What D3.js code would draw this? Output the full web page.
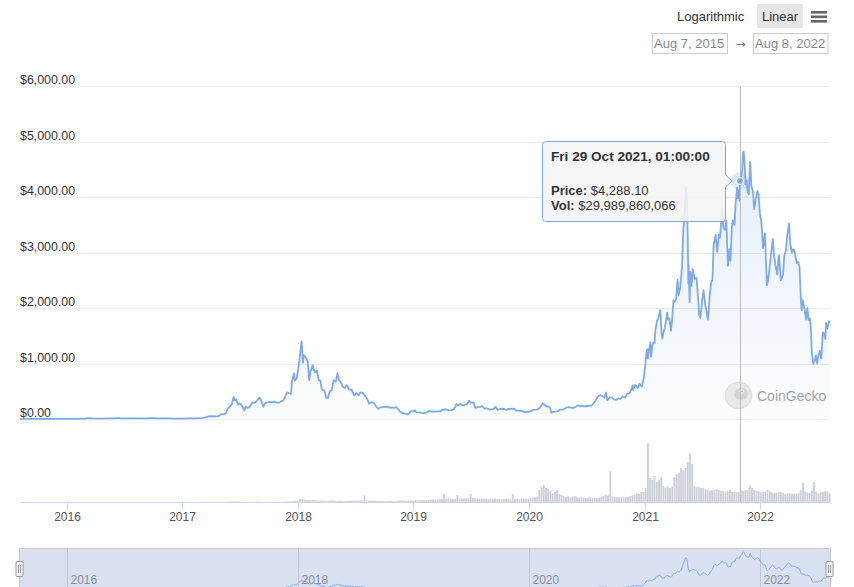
<!DOCTYPE html>
<html><head><meta charset="utf-8">
<script src="https://cdn.jsdelivr.net/npm/d3@7"></script>
<style>body{margin:0;background:#fff;}svg{display:block;font-family:"Liberation Sans",Arial,Helvetica,sans-serif;}</style>
</head><body><svg id="c" width="854" height="587"></svg>
<script>
// ---------------- DATA ----------------
const startDate = "2015-08-07";
const endDate = "2022-08-08";
const priceTicks = [0, 1000, 2000, 3000, 4000, 5000, 6000];
const yearTicks = [2016, 2017, 2018, 2019, 2020, 2021, 2022];
const navYearTicks = [2016, 2018, 2020, 2022];
const rangeButtons = ["Logarithmic", "Linear"];
const rangeLabels = ["Aug 7, 2015", "Aug 8, 2022"];
const watermark = "CoinGecko";

// [date, price USD]
const priceSeries = [
["2015-08-07",2.8],["2015-08-10",0.7],["2015-08-18",1.2],["2015-08-30",1.3],["2015-09-15",0.9],["2015-10-01",0.7],["2015-10-20",0.45],["2015-11-05",1.0],["2015-11-20",0.95],["2015-12-10",0.85],["2015-12-31",0.93],
["2016-01-20",1.55],["2016-02-01",2.3],["2016-02-15",5.0],["2016-03-01",7.9],["2016-03-13",15.0],["2016-03-25",10.5],["2016-04-10",8.3],["2016-04-25",7.5],["2016-05-10",9.5],["2016-05-25",12.5],["2016-06-10",14.5],["2016-06-17",15.0],["2016-06-20",11.0],["2016-07-01",12.4],["2016-07-20",12.5],["2016-08-01",11.0],["2016-08-20",11.0],["2016-09-10",12.0],["2016-09-30",13.2],["2016-10-15",12.0],["2016-11-01",11.0],["2016-11-15",10.0],["2016-12-01",8.5],["2016-12-15",7.8],["2016-12-31",8.0],
["2017-01-15",9.8],["2017-02-01",10.7],["2017-02-15",12.9],["2017-03-01",17.3],["2017-03-08",19],["2017-03-15",28.5],["2017-03-22",42],["2017-04-01",50],["2017-04-15",48],["2017-04-25",50],["2017-05-01",78],["2017-05-10",88],["2017-05-18",97],["2017-05-25",190],["2017-06-01",230],["2017-06-06",260],["2017-06-12",400],["2017-06-15",340],["2017-06-20",355],["2017-06-26",260],["2017-07-01",280],["2017-07-08",240],["2017-07-16",155],["2017-07-20",225],["2017-07-27",200],["2017-08-03",225],["2017-08-10",300],["2017-08-18",295],["2017-08-25",330],["2017-09-01",385],["2017-09-07",335],["2017-09-14",220],["2017-09-20",285],["2017-09-28",300],["2017-10-05",310],["2017-10-12",305],["2017-10-19",315],["2017-10-26",295],["2017-11-02",290],["2017-11-09",320],["2017-11-16",330],["2017-11-23",410],["2017-11-28",480],["2017-12-05",460],["2017-12-10",450],["2017-12-14",700],["2017-12-20",820],["2017-12-22",690],["2017-12-28",730],
["2018-01-04",960],["2018-01-10",1260],["2018-01-13",1400],["2018-01-17",1010],["2018-01-20",1150],["2018-01-27",1100],["2018-02-01",1040],["2018-02-06",700],["2018-02-10",860],["2018-02-17",970],["2018-02-24",840],["2018-03-02",870],["2018-03-08",700],["2018-03-13",690],["2018-03-18",530],["2018-03-25",520],["2018-04-01",380],["2018-04-06",380],["2018-04-12",500],["2018-04-18",520],["2018-04-24",700],["2018-05-01",670],["2018-05-06",820],["2018-05-12",690],["2018-05-17",660],["2018-05-23",580],["2018-05-29",560],["2018-06-05",610],["2018-06-12",530],["2018-06-20",530],["2018-06-28",420],["2018-07-05",470],["2018-07-12",430],["2018-07-18",480],["2018-07-25",470],["2018-08-01",420],["2018-08-08",360],["2018-08-14",280],["2018-08-20",300],["2018-08-28",295],["2018-09-05",230],["2018-09-12",185],["2018-09-19",210],["2018-09-26",215],["2018-10-03",220],["2018-10-10",225],["2018-10-17",205],["2018-10-24",205],["2018-11-01",200],["2018-11-08",215],["2018-11-14",180],["2018-11-20",130],["2018-11-27",110],["2018-12-03",95],["2018-12-10",90],["2018-12-14",84],["2018-12-20",110],["2018-12-24",140],["2018-12-31",135],
["2019-01-06",155],["2019-01-10",125],["2019-01-20",120],["2019-01-30",105],["2019-02-06",105],["2019-02-14",122],["2019-02-20",148],["2019-02-27",135],["2019-03-07",137],["2019-03-14",133],["2019-03-21",137],["2019-03-28",138],["2019-04-03",170],["2019-04-10",175],["2019-04-17",167],["2019-04-24",155],["2019-05-01",160],["2019-05-08",170],["2019-05-14",215],["2019-05-17",265],["2019-05-22",245],["2019-05-30",270],["2019-06-05",245],["2019-06-12",255],["2019-06-20",270],["2019-06-26",330],["2019-07-02",290],["2019-07-10",300],["2019-07-16",200],["2019-07-24",215],["2019-07-31",218],["2019-08-07",230],["2019-08-14",185],["2019-08-21",195],["2019-08-29",170],["2019-09-05",175],["2019-09-12",180],["2019-09-18",222],["2019-09-24",165],["2019-10-01",180],["2019-10-08",185],["2019-10-15",180],["2019-10-23",162],["2019-10-26",180],["2019-11-02",183],["2019-11-09",188],["2019-11-16",184],["2019-11-22",150],["2019-11-29",152],["2019-12-06",148],["2019-12-13",144],["2019-12-18",122],["2019-12-25",127],
["2020-01-01",130],["2020-01-08",142],["2020-01-15",166],["2020-01-22",168],["2020-01-29",175],["2020-02-05",204],["2020-02-12",265],["2020-02-14",285],["2020-02-19",260],["2020-02-26",225],["2020-03-04",225],["2020-03-08",200],["2020-03-12",110],["2020-03-19",130],["2020-03-26",138],["2020-04-02",140],["2020-04-09",170],["2020-04-16",170],["2020-04-23",185],["2020-04-30",210],["2020-05-07",212],["2020-05-14",200],["2020-05-21",200],["2020-05-28",220],["2020-06-04",245],["2020-06-11",230],["2020-06-18",232],["2020-06-25",230],["2020-07-02",230],["2020-07-09",242],["2020-07-16",235],["2020-07-23",275],["2020-07-30",335],["2020-08-05",400],["2020-08-13",430],["2020-08-20",415],["2020-08-27",385],["2020-09-01",477],["2020-09-05",335],["2020-09-12",387],["2020-09-19",385],["2020-09-26",354],["2020-10-03",346],["2020-10-10",370],["2020-10-17",368],["2020-10-24",410],["2020-10-31",385],["2020-11-07",455],["2020-11-14",460],["2020-11-21",550],["2020-11-24",605],["2020-11-26",520],["2020-12-01",615],["2020-12-10",560],["2020-12-16",635],["2020-12-23",585],["2020-12-29",730],
["2021-01-03",975],["2021-01-04",1040],["2021-01-07",1220],["2021-01-10",1260],["2021-01-11",1090],["2021-01-14",1220],["2021-01-19",1380],["2021-01-21",1120],["2021-01-25",1320],["2021-01-29",1380],["2021-02-01",1370],["2021-02-04",1600],["2021-02-09",1770],["2021-02-13",1810],["2021-02-19",1960],["2021-02-20",1940],["2021-02-23",1570],["2021-02-26",1450],["2021-03-01",1560],["2021-03-06",1650],["2021-03-13",1920],["2021-03-16",1790],["2021-03-20",1810],["2021-03-25",1590],["2021-03-29",1820],["2021-04-02",2140],["2021-04-06",2110],["2021-04-10",2150],["2021-04-15",2510],["2021-04-18",2230],["2021-04-23",2370],["2021-04-26",2530],["2021-04-29",2760],["2021-05-03",3430],["2021-05-05",3520],["2021-05-09",3900],["2021-05-11",4170],["2021-05-12",3870],["2021-05-14",4080],["2021-05-17",3280],["2021-05-19",2440],["2021-05-20",2770],["2021-05-23",2100],["2021-05-25",2650],["2021-05-29",2400],["2021-06-02",2700],["2021-06-08",2520],["2021-06-14",2540],["2021-06-18",2230],["2021-06-22",1880],["2021-06-26",1820],["2021-07-01",2110],["2021-07-06",2320],["2021-07-12",2030],["2021-07-20",1790],["2021-07-25",2190],["2021-07-30",2460],["2021-08-03",2510],["2021-08-07",3150],["2021-08-13",3320],["2021-08-18",3010],["2021-08-23",3320],["2021-08-27",3270],["2021-09-03",3800],["2021-09-07",3430],["2021-09-12",3410],["2021-09-16",3580],["2021-09-21",2760],["2021-09-26",3060],["2021-09-29",2850],["2021-10-03",3420],["2021-10-06",3580],["2021-10-12",3500],["2021-10-15",3860],["2021-10-20",4170],["2021-10-22",3970],["2021-10-26",4130],["2021-10-28",3930],["2021-10-29",4288.1],["2021-11-01",4320],["2021-11-05",4480],["2021-11-08",4810],["2021-11-10",4815],["2021-11-12",4670],["2021-11-16",4230],["2021-11-19",4300],["2021-11-22",4090],["2021-11-26",4050],["2021-11-30",4630],["2021-12-01",4580],["2021-12-04",4200],["2021-12-09",4100],["2021-12-13",3780],["2021-12-18",3960],["2021-12-23",4110],["2021-12-27",4040],["2021-12-31",3700],
["2022-01-05",3540],["2022-01-10",3080],["2022-01-16",3350],["2022-01-22",2410],["2022-01-24",2440],["2022-01-28",2600],["2022-02-01",2790],["2022-02-05",3010],["2022-02-10",3240],["2022-02-14",2930],["2022-02-18",2780],["2022-02-24",2600],["2022-02-28",2920],["2022-03-02",2950],["2022-03-07",2500],["2022-03-14",2590],["2022-03-18",2940],["2022-03-23",3030],["2022-03-28",3330],["2022-04-02",3520],["2022-04-06",3160],["2022-04-11",3000],["2022-04-16",3060],["2022-04-21",2990],["2022-04-26",2810],["2022-05-01",2830],["2022-05-05",2750],["2022-05-09",2240],["2022-05-12",1960],["2022-05-15",2140],["2022-05-20",2020],["2022-05-26",1790],["2022-05-30",2000],["2022-06-03",1780],["2022-06-07",1810],["2022-06-10",1660],["2022-06-13",1200],["2022-06-18",995],["2022-06-22",1050],["2022-06-26",1140],["2022-06-30",1000],["2022-07-04",1150],["2022-07-08",1230],["2022-07-13",1090],["2022-07-18",1560],["2022-07-22",1540],["2022-07-26",1440],["2022-07-28",1730],["2022-08-01",1630],["2022-08-05",1720],["2022-08-08",1780]
];

// weekly volume, billions USD, one value per week starting at startDate
const vol2015 = [0.002,0.001,0.001,0.001,0.001,0.001,0.001,0.001,0.001,0.002,0.002,0.001,0.001,0.001,0.001,0.001,0.001,0.001,0.001,0.001,0.001];
const vol2016 = [0.003,0.004,0.005,0.008,0.012,0.015,0.02,0.03,0.04,0.05,0.03,0.02,0.02,0.015,0.018,0.02,0.02,0.025,0.03,0.03,0.05,0.06,0.04,0.03,0.025,0.02,0.02,0.02,0.015,0.015,0.015,0.02,0.02,0.018,0.015,0.015,0.02,0.02,0.015,0.015,0.012,0.012,0.015,0.01,0.01,0.012,0.01,0.01,0.01,0.01,0.012,0.012];
const vol2017 = [0.02,0.02,0.02,0.025,0.03,0.03,0.04,0.05,0.1,0.15,0.2,0.25,0.3,0.2,0.2,0.25,0.3,0.4,0.5,0.6,0.8,1.0,1.2,1.5,1.2,1.0,0.9,0.8,0.9,1.0,0.8,0.7,0.6,0.7,1.2,1.0,0.6,0.5,0.5,0.6,0.5,0.5,0.4,0.5,0.7,0.8,1.2,1.4,1.5,2.0,2.5,3.0,2.5];
const vol2018 = [7,8,6,5,5,4,5,4,3.6,3.4,3.6,3.2,3,3.2,4,3.6,3.4,3,3.2,2.8,2.8,3.2,3,3,3.6,3.4,3,3.6,3.2,17,4,3.6,3.4,3.2,3.2,3,3,3,2.8,2.8,3,3,2.6,2.6,3,4,3.6,3.2,3,2.8,3,3];
const vol2019 = [5,4.5,5,4.5,4.5,5,5,5.5,6,6,7,7.5,8,20,8,8.5,8,7.5,8,18,9,8.5,9,9.5,9,20,10,9,8.5,8,9,8.5,8,7.5,8,7.5,8,7,7.5,7,7.5,8,7.5,7,20,7.5,8,7,7,7.5,7,8];
const vol2020 = [10,11,12,14,30,38,42,35,32,28,22,25,30,20,18,14,13,14,12,13,14,12,11,12,11,10,11,12,10,11,10,11,14,16,18,16,77,14,13,12,12,11,12,12,13,14,16,18,22,20,25,25];
const vol2021 = [35,147,60,55,65,50,55,62,40,36,38,35,38,62,70,72,85,80,85,100,122,95,40,38,37,35,36,32,30,28,29,30,32,30,28,27,26,28,30,26,25,24,25,30,28,29,30,42,35,30,28,26,24];
const vol2022 = [26,25,30,27,24,22,23,24,25,22,20,21,22,20,21,20,22,30,48,26,24,22,28,50,26,22,24,25,28,26,22];

// tooltip point
const tooltipDate = "2021-10-29T01:00:00";
const tooltipPrice = 4288.10;
const tooltipVolume = 29989860066;

// ---------------- CHART ----------------
const svg = d3.select("#c");
const parseDay = d3.utcParse("%Y-%m-%d");
const parseFull = d3.utcParse("%Y-%m-%dT%H:%M:%S");
const t0 = parseDay(startDate), t1 = parseDay(endDate);
const prices = priceSeries.map(d => ({date: parseDay(d[0]), value: d[1]}));
const volumes = [].concat(vol2015, vol2016, vol2017, vol2018, vol2019, vol2020, vol2021, vol2022)
  .map((v, i) => ({date: d3.utcDay.offset(t0, i * 7), value: v * 1e9}));

const left = 20, right = 829.5;
const x = d3.scaleUtc().domain([t0, t1]).range([left, right]);
const y = d3.scaleLinear().domain([0, 6000]).range([419, 86]);
const yVol = d3.scaleLinear().domain([0, 150e9]).range([502, 442]);
const lineColor = "#7eaae8";

// gradient
const defs = svg.append("defs");
const grad = defs.append("linearGradient").attr("id", "ag").attr("gradientUnits", "userSpaceOnUse")
  .attr("x1", 0).attr("x2", 0).attr("y1", 150).attr("y2", 419);
grad.append("stop").attr("offset", 0).attr("stop-color", lineColor).attr("stop-opacity", 0.2);
grad.append("stop").attr("offset", 1).attr("stop-color", lineColor).attr("stop-opacity", 0.03);
defs.append("clipPath").attr("id", "navclip").append("rect").attr("x", left).attr("y", 548).attr("width", 810).attr("height", 50);

// top controls
const ctl = svg.append("g").attr("font-size", 13).attr("fill", "#333");
ctl.append("text").attr("x", 677).attr("y", 21).text(rangeButtons[0]);
ctl.append("rect").attr("x", 757).attr("y", 4).attr("width", 46).attr("height", 24).attr("rx", 2).attr("fill", "#e6e6e6");
ctl.append("text").attr("x", 762).attr("y", 21).text(rangeButtons[1]);
[11, 15.5, 20].forEach(yy => ctl.append("rect").attr("x", 811).attr("y", yy).attr("width", 16).attr("height", 2.6).attr("fill", "#666"));
const boxes = [{x: 652.5, w: 75}, {x: 753.5, w: 74.5}];
boxes.forEach((b, i) => {
  ctl.append("rect").attr("x", b.x).attr("y", 33.5).attr("width", b.w).attr("height", 20).attr("fill", "#fff").attr("stroke", "#ccc");
  ctl.append("text").attr("x", b.x + 1.5).attr("y", 48).attr("fill", "#888").text(rangeLabels[i]);
});
ctl.append("text").attr("x", 740.5).attr("y", 47.5).attr("text-anchor", "middle").attr("font-size", 12)
  .attr("font-family", "'DejaVu Sans', sans-serif").attr("fill", "#777").text("→");

// grid + y labels
const gy = svg.append("g");
priceTicks.forEach(v => {
  gy.append("line").attr("x1", left).attr("x2", 830).attr("y1", Math.round(y(v)) + 0.5).attr("y2", Math.round(y(v)) + 0.5)
    .attr("stroke", "#ececec");
  gy.append("text").attr("x", left).attr("y", Math.round(y(v)) - 2).attr("font-size", 12.4).attr("fill", "#333")
    .text(d3.format("$,.2f")(v));
});

// watermark
const wm = svg.append("g");
wm.append("circle").attr("cx", 738.5).attr("cy", 395.5).attr("r", 13).attr("fill", "#ececec").attr("stroke", "#e2e2e2").attr("stroke-width", 1.5);
wm.append("ellipse").attr("cx", 741).attr("cy", 394).attr("rx", 7).attr("ry", 6).attr("fill", "#d6d6d6");
wm.append("circle").attr("cx", 742).attr("cy", 391.5).attr("r", 2.2).attr("fill", "#f4f4f4");
wm.append("circle").attr("cx", 742.3).attr("cy", 391.5).attr("r", 1).attr("fill", "#bdbdbd");
wm.append("text").attr("x", 757).attr("y", 401).attr("font-size", 14).attr("fill", "#a3a3a3").text(watermark);

// volume bars
svg.append("g").selectAll("rect").data(volumes.filter(d => d.date <= t1)).join("rect")
  .attr("x", d => x(d.date))
  .attr("width", d => Math.max(0.6, x(d3.utcDay.offset(d.date, 7)) - x(d.date) - 0.25))
  .attr("y", d => yVol(d.value))
  .attr("height", d => 502 - yVol(d.value))
  .attr("fill", "#cfd2d9");

// price area + line
svg.append("path").datum(prices)
  .attr("d", d3.area().x(d => x(d.date)).y0(y(0)).y1(d => y(d.value)))
  .attr("fill", "url(#ag)");
svg.append("path").datum(prices)
  .attr("d", d3.line().x(d => x(d.date)).y(d => y(d.value)))
  .attr("fill", "none").attr("stroke", lineColor).attr("stroke-width", 1.8).attr("stroke-linejoin", "round");

// x axis
const gx = svg.append("g");
gx.append("line").attr("x1", left).attr("x2", 830).attr("y1", 502.5).attr("y2", 502.5).attr("stroke", "#ccd6eb");
yearTicks.forEach(yr => {
  const xx = Math.round(x(Date.UTC(yr, 0, 1))) + 0.5;
  gx.append("line").attr("x1", xx).attr("x2", xx).attr("y1", 502.5).attr("y2", 509.5).attr("stroke", "#ccd6eb");
  gx.append("text").attr("x", xx).attr("y", 521).attr("text-anchor", "middle").attr("font-size", 12).attr("fill", "#555").text(yr);
});

// crosshair + marker
const td = parseFull(tooltipDate);
const cx = Math.round(x(td)) + 0.5, cy = y(tooltipPrice);
svg.append("line").attr("x1", cx).attr("x2", cx).attr("y1", 87).attr("y2", 502).attr("stroke", "#bbb");
svg.append("circle").attr("cx", x(td)).attr("cy", cy).attr("r", 9).attr("fill", lineColor).attr("fill-opacity", 0.25);
svg.append("circle").attr("cx", x(td)).attr("cy", cy).attr("r", 3.5).attr("fill", lineColor).attr("stroke", "#fff").attr("stroke-width", 1);

// tooltip
const L = 542.5, T = 141.5, R = 725.5, B = 221.5, r = 3, tipX = x(td) - 8;
const tp = d3.path();
tp.moveTo(L + r, T); tp.lineTo(R - r, T); tp.quadraticCurveTo(R, T, R, T + r);
tp.lineTo(R, cy - 6); tp.lineTo(tipX, cy); tp.lineTo(R, cy + 6);
tp.lineTo(R, B - r); tp.quadraticCurveTo(R, B, R - r, B); tp.lineTo(L + r, B);
tp.quadraticCurveTo(L, B, L, B - r); tp.lineTo(L, T + r); tp.quadraticCurveTo(L, T, L + r, T); tp.closePath();
svg.append("path").attr("d", tp.toString()).attr("fill", "rgba(0,0,0,0.05)").attr("transform", "translate(1,1)");
svg.append("path").attr("d", tp.toString()).attr("fill", "rgba(245,245,245,0.88)").attr("stroke", lineColor).attr("stroke-width", 1);
const tt = svg.append("g").attr("font-size", 13).attr("fill", "#333");
tt.append("text").attr("x", 551).attr("y", 161).attr("font-weight", "bold").attr("font-size", 13.6).text(d3.utcFormat("%a %d %b %Y, %H:%M:%S")(td));
const l2 = tt.append("text").attr("x", 551).attr("y", 194.5);
l2.append("tspan").attr("font-weight", "bold").text("Price:");
l2.append("tspan").text(" " + d3.format("$,.2f")(tooltipPrice));
const l3 = tt.append("text").attr("x", 551).attr("y", 209.5);
l3.append("tspan").attr("font-weight", "bold").text("Vol:");
l3.append("tspan").text(" " + d3.format("$,")(tooltipVolume));

// navigator
const yNav = d3.scaleLinear().domain([0, 4815]).range([590.6, 551.7]);
const nav = svg.append("g");
nav.append("rect").attr("x", left).attr("y", 548).attr("width", 810).attr("height", 40).attr("fill", "rgba(102,133,194,0.25)");
navYearTicks.forEach(yr => {
  const xx = Math.round(x(Date.UTC(yr, 0, 1))) + 0.5;
  nav.append("line").attr("x1", xx).attr("x2", xx).attr("y1", 548).attr("y2", 588).attr("stroke", "#c2c6d2");
  nav.append("text").attr("x", xx + 3).attr("y", 584).attr("font-size", 12).attr("fill", "#8a8e99").text(yr);
});
nav.append("path").datum(prices).attr("clip-path", "url(#navclip)")
  .attr("d", d3.line().curve(d3.curveBasis).x(d => x(d.date)).y(d => yNav(d.value)))
  .attr("fill", "none").attr("stroke", lineColor).attr("stroke-width", 1);
nav.append("path").attr("d", `M${left - 0.5},588 V548.5 H830.5 V588`).attr("fill", "none").attr("stroke", "#c8c8c8");
[left - 0.5, 829.5].forEach(hx => {
  nav.append("rect").attr("x", hx - 3.5).attr("y", 561.5).attr("width", 7).attr("height", 15).attr("rx", 1)
    .attr("fill", "#f2f2f2").attr("stroke", "#999");
  nav.append("line").attr("x1", hx - 1).attr("x2", hx - 1).attr("y1", 565).attr("y2", 573).attr("stroke", "#999");
  nav.append("line").attr("x1", hx + 1).attr("x2", hx + 1).attr("y1", 565).attr("y2", 573).attr("stroke", "#999");
});
</script></body></html>
